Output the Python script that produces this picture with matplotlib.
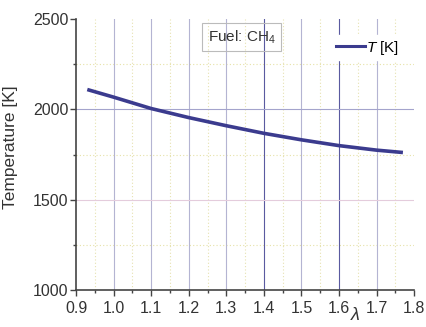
import matplotlib
matplotlib.use("Agg")
import matplotlib.pyplot as plt
import numpy as np
from matplotlib.ticker import MultipleLocator
from matplotlib.lines import Line2D

plt.rcParams["font.family"] = ["Liberation Sans", "DejaVu Sans"]
plt.rcParams["mathtext.fontset"] = "custom"
plt.rcParams["mathtext.rm"] = "Liberation Sans"
plt.rcParams["mathtext.it"] = "Liberation Sans:italic"

# Excess air ratio and adiabatic flame temperature for methane
lam = [0.93, 1.0, 1.1, 1.2, 1.3, 1.4, 1.5, 1.6, 1.7, 1.77]
temp = [2110, 2068, 2005, 1955, 1910, 1868, 1832, 1800, 1775, 1762]

x_ticks = [0.9, 1.0, 1.1, 1.2, 1.3, 1.4, 1.5, 1.6, 1.7, 1.8]
y_ticks = [1000, 1500, 2000, 2500]

fig = plt.figure(figsize=(4.27, 3.27), dpi=100)
ax = fig.add_axes([0.178, 0.112, 0.792, 0.830])

ax.set_xlim(0.9, 1.8)
ax.set_ylim(1000, 2500)

# minor dotted grid
for xv in np.arange(0.95, 1.8, 0.1):
    ax.axvline(xv, color="#e6e2b0", lw=0.8, ls=(0, (1, 2)), zorder=0)
for yv in [1250, 1750, 2250]:
    ax.axhline(yv, color="#e6e2a8", lw=0.8, ls=(0, (1, 2)), zorder=0)

# major grid
for xv in x_ticks[1:-1]:
    c = "#5a5aa0" if xv in (1.4, 1.6) else "#b4b4d2"
    ax.axvline(xv, color=c, lw=0.8, zorder=0)
ax.axhline(2000, color="#a4a4cc", lw=0.8, zorder=0)
ax.axhline(1500, color="#e4ccdc", lw=0.8, zorder=0)

ax.plot(lam, temp, color="#3b3b8e", lw=2.6, solid_capstyle="butt", zorder=3)

for s in ("top", "right"):
    ax.spines[s].set_visible(False)
for s in ("left", "bottom"):
    ax.spines[s].set_color("#444444")
    ax.spines[s].set_linewidth(1.2)

ax.set_xticks(x_ticks)
ax.set_xticklabels([f"{v:.1f}" for v in x_ticks])
ax.set_yticks(y_ticks)
ax.xaxis.set_minor_locator(MultipleLocator(0.05))
ax.yaxis.set_minor_locator(MultipleLocator(250))
ax.tick_params(which="major", direction="out", length=4.5, width=1, color="#444444",
               labelsize=11.5, labelcolor="#333333", pad=1)
ax.tick_params(axis="x", which="major", pad=3.5)
ax.tick_params(which="minor", direction="out", length=2.5, width=1, color="#444444")

ax.set_ylabel("Temperature [K]", fontsize=12.5, color="#333333")
ax.yaxis.set_label_coords(-0.172, 0.527)
fig.text(0.832, 0.008, r"$\lambda$", fontsize=13, color="#333333", ha="center", va="bottom")

# fuel annotation box
ax.text(0.49, 0.934, "Fuel: CH$_4$", transform=ax.transAxes, fontsize=11, color="#333333",
        ha="center", va="center",
        bbox=dict(boxstyle="square,pad=0.35", fc="none", ec="#bbbbbb", lw=0.8))

leg = ax.legend([Line2D([], [], color="#3b3b8e", lw=2.2)], [r"$T$ [K]"],
                loc="upper right", bbox_to_anchor=(0.99, 0.97), frameon=True,
                fontsize=11, handlelength=1.9, handletextpad=0.1, borderpad=0.25)
leg.get_frame().set_edgecolor("white")
leg.get_frame().set_facecolor("white")
leg.get_frame().set_alpha(1)

fig.savefig("out.png", dpi=100)
